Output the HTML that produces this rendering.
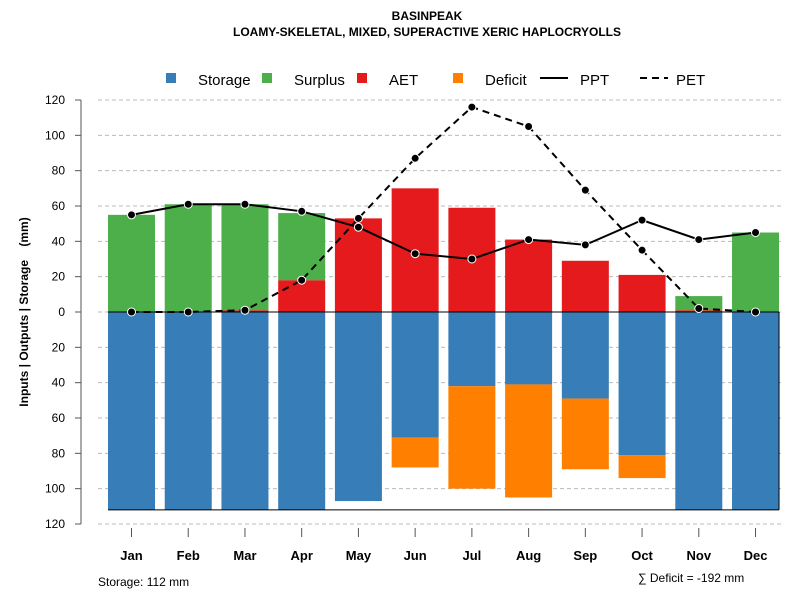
<!DOCTYPE html>
<html><head><meta charset="utf-8"><style>
body{margin:0;background:#fff}
svg{font-family:"Liberation Sans",Arial,sans-serif}
</style></head><body>
<svg width="800" height="600" viewBox="0 0 800 600">
<text x="427" y="20" text-anchor="middle" font-size="12" font-weight="bold">BASINPEAK</text>
<text x="427" y="36" text-anchor="middle" font-size="12" font-weight="bold">LOAMY-SKELETAL, MIXED, SUPERACTIVE XERIC HAPLOCRYOLLS</text>
<g id="grid"></g><g id="bars"></g><g id="lines"></g><g id="axes"></g>
<g font-size="15">
<rect x="166" y="73" width="10" height="10" fill="#377EB8"/><text x="198" y="85">Storage</text>
<rect x="262" y="73" width="10" height="10" fill="#4DAF4A"/><text x="294" y="85">Surplus</text>
<rect x="357" y="73" width="10" height="10" fill="#E41A1C"/><text x="389" y="85">AET</text>
<rect x="453" y="73" width="10" height="10" fill="#FF7F00"/><text x="485" y="85">Deficit</text>
<line x1="540" y1="78" x2="568" y2="78" stroke="#000" stroke-width="2"/><text x="580" y="85">PPT</text>
<line x1="640" y1="78" x2="668" y2="78" stroke="#000" stroke-width="2" stroke-dasharray="7,5"/><text x="676" y="85">PET</text>
</g>
<text transform="translate(28,312) rotate(-90)" text-anchor="middle" font-size="12" font-weight="bold" style="white-space:pre">Inputs | Outputs | Storage    (mm)</text>
<text x="98" y="586" font-size="12">Storage: 112 mm</text>
<text x="638" y="582" font-size="12">∑ Deficit = -192 mm</text>
</svg>
<script>
const months=["Jan","Feb","Mar","Apr","May","Jun","Jul","Aug","Sep","Oct","Nov","Dec"];
const storage=[112,112,112,112,107,71,42,41,49,81,112,112];
const deficit=[0,0,0,0,0,17,58,64,40,13,0,0];
const aet=[0,0,1,18,53,70,59,41,29,21,1,0];
const surplus=[55,61,60,38,0,0,0,0,0,0,8,45];
const ppt=[55,61,61,57,48,33,30,41,38,52,41,45];
const pet=[0,0,1,18,53,87,116,105,69,35,2,0];
const yTicks=[120,100,80,60,40,20,0,20,40,60,80,100,120];
const yVals=[120,100,80,60,40,20,0,-20,-40,-60,-80,-100,-120];
const NS="http://www.w3.org/2000/svg";
const X=i=>131.5+i*56.73;
const Y=v=>312-v*212/120;
const BW=47;
function mk(p,t,a){const e=document.createElementNS(NS,t);for(const k in a)e.setAttribute(k,a[k]);p.appendChild(e);return e;}
const grid=document.getElementById('grid'),bars=document.getElementById('bars'),lines=document.getElementById('lines'),axes=document.getElementById('axes');
yVals.forEach((v,i)=>{
 const g=mk(grid,'line',{x1:98,x2:783,y1:Y(v),y2:Y(v),stroke:'#bbb','stroke-dasharray':'4,3'});
 
 
 mk(axes,'line',{x1:75,x2:81,y1:Y(v),y2:Y(v),stroke:'#555'});
 const t=mk(axes,'text',{x:65,y:Y(v)+4,'text-anchor':'end','font-size':12});t.textContent=yTicks[i];
 
 
});
mk(axes,'line',{x1:81,x2:81,y1:Y(120),y2:Y(-120),stroke:'#555'});
months.forEach((m,i)=>{
 const x=X(i);
 mk(axes,'line',{x1:x,x2:x,y1:528,y2:537,stroke:'#555'});
 const t=mk(axes,'text',{x:x,y:560,'text-anchor':'middle','font-size':13,'font-weight':'bold'});t.textContent=m;
 
 
 const r=(y0,y1,c,n)=>{if(Math.abs(y1-y0)<0.01)return;const e=mk(bars,'rect',{x:x-BW/2,y:Math.min(Y(y0),Y(y1)),width:BW,height:Math.abs(Y(y1)-Y(y0)),fill:c});
  
  };
 r(0,-storage[i],'#377EB8','storage-bar');
 r(-storage[i],-storage[i]-deficit[i],'#FF7F00','deficit-bar');
 r(0,aet[i],'#E41A1C','aet-bar');
 r(aet[i],aet[i]+surplus[i],'#4DAF4A','surplus-bar');
});
mk(bars,'line',{x1:X(0)-BW/2,x2:X(11)+BW/2,y1:Y(0),y2:Y(0),stroke:'#000'});
mk(bars,'line',{x1:X(0)-BW/2,x2:X(11)+BW/2,y1:Y(-112),y2:Y(-112),stroke:'#000'});
mk(bars,'line',{x1:X(11)+BW/2,x2:X(11)+BW/2,y1:Y(0),y2:Y(-112),stroke:'#000'});
function series(d,name,dash){
 const p=mk(lines,'polyline',{points:d.map((v,i)=>X(i)+','+Y(v)).join(' '),fill:'none',stroke:'#000','stroke-width':2,'stroke-dasharray':dash||'none'});
 
 
 d.forEach((v,i)=>{const c=mk(lines,'circle',{cx:X(i),cy:Y(v),r:4,fill:'#000',stroke:'#fff','stroke-width':1});
  
  });
}
series(pet,'pet','7,5');
series(ppt,'ppt');
</script>
</body></html>
